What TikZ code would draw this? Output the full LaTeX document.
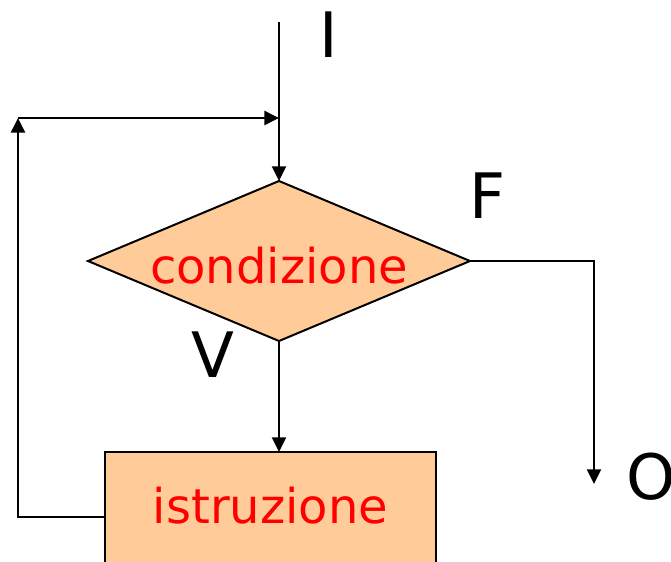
\documentclass[tikz,border=0pt]{standalone}
\usepackage{fontspec}
\setmainfont{DejaVu Sans}
\usetikzlibrary{shapes.geometric,arrows.meta}
\definecolor{boxfill}{RGB}{255,204,153}
\tikzset{
  conn/.style={line width=1.5pt,-{Triangle[length=11pt,width=10.5pt]}},
  boxtext/.style={text=red,font=\fontsize{36pt}{43pt}\selectfont},
  lbl/.style={inner sep=0pt,font=\fontsize{47pt}{56pt}\selectfont},
}
\begin{document}
\begin{tikzpicture}[x=0.75pt,y=-0.75pt]
\clip (0,0) rectangle (671,561);
\fill[white] (0,0) rectangle (671,561);
\node[diamond,draw,line width=1.5pt,fill=boxfill,boxtext,inner sep=0pt,outer sep=0pt,
      aspect=2.39,minimum width=382*0.75pt,minimum height=160*0.75pt,
      text height=33pt,text depth=0pt] (cond) at (279,261) {condizione};
\node[rectangle,draw,line width=1.5pt,fill=boxfill,boxtext,inner sep=0pt,outer sep=0pt,
      minimum width=331*0.75pt,minimum height=130*0.75pt,
      text height=27pt,text depth=18pt] (istr) at (270.5,517) {istruzione};
\coordinate (in) at (279,22);
\coordinate (join) at (279,118);
\coordinate (lc) at (18,118);
\coordinate (out) at (594,484);
\draw[conn] (in) -- (cond.north);
\draw[conn,line width=1.9pt] (istr.west) -| (lc);
\draw[conn,line width=1.9pt] (lc) -- (join);
\draw[conn] (cond.south) -- (cond.south |- istr.north);
\draw[conn] (cond.east) -| (out);
\node[lbl] (lI) at (328.5,35) {I};
\node[lbl] (lF) at (488,196) {F};
\node[lbl] (lV) at (212.5,355) {V};
\node[lbl] (lO) at (651,477) {O};
\end{tikzpicture}
\end{document}
